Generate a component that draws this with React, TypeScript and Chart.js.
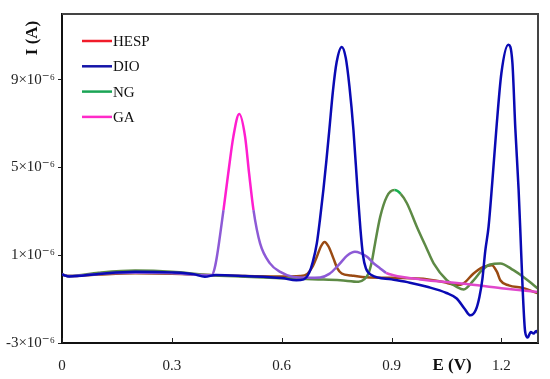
import React, { useEffect, useRef } from "react";
import { Chart, registerables } from "chart.js";

Chart.register(...registerables);

// Potential E (V) and current I (units of 1e-6 A)
const HESP_V = [0.0, 0.02, 0.1, 0.2, 0.3, 0.4, 0.5, 0.6, 0.65, 0.67, 0.685, 0.696, 0.707, 0.717, 0.728, 0.741, 0.752, 0.764, 0.79, 0.82, 0.9, 1.0, 1.05, 1.078, 1.096, 1.124, 1.151, 1.174, 1.188, 1.197, 1.22, 1.26, 1.3];
const HESP_I = [0.12, 0.05, 0.12, 0.18, 0.16, 0.1, 0.05, 0.03, 0.05, 0.15, 0.5, 0.93, 1.4, 1.61, 1.4, 0.87, 0.4, 0.17, 0.08, 0.01, -0.03, -0.1, -0.25, -0.36, -0.29, 0.17, 0.47, 0.55, 0.24, -0.14, -0.37, -0.5, -0.74];

const DIO_V = [0.0, 0.02, 0.1, 0.2, 0.3, 0.36, 0.39, 0.42, 0.5, 0.6, 0.64, 0.66, 0.675, 0.685, 0.696, 0.705, 0.714, 0.722, 0.73, 0.74, 0.75, 0.764, 0.775, 0.785, 0.796, 0.807, 0.815, 0.822, 0.83, 0.845, 0.9, 0.95, 1.0, 1.05, 1.078, 1.1, 1.115, 1.13, 1.14, 1.148, 1.156, 1.165, 1.175, 1.186, 1.2, 1.219, 1.23, 1.238, 1.247, 1.252, 1.258, 1.265, 1.272, 1.28, 1.288, 1.295, 1.3];
const DIO_I = [0.12, 0.03, 0.15, 0.25, 0.22, 0.14, 0.02, 0.1, 0.05, -0.04, -0.14, -0.1, 0.2, 0.7, 1.55, 2.7, 4.0, 5.3, 6.7, 8.5, 9.8, 10.5, 10.0, 8.7, 6.7, 4.0, 2.2, 1.0, 0.4, 0.1, -0.1, -0.25, -0.45, -0.72, -0.97, -1.45, -1.74, -1.5, -0.9, -0.1, 1.2, 2.3, 4.3, 6.7, 9.3, 10.6, 9.8, 6.8, 4.0, 2.0, -0.5, -2.5, -2.75, -2.5, -2.57, -2.45, -2.55];

const NG_V = [0.0, 0.02, 0.1, 0.2, 0.3, 0.4, 0.5, 0.6, 0.7, 0.76, 0.81, 0.825, 0.837, 0.846, 0.855, 0.869, 0.887, 0.908, 0.925, 0.942, 0.969, 0.996, 1.015, 1.051, 1.078, 1.097, 1.124, 1.147, 1.169, 1.197, 1.233, 1.26, 1.283, 1.3];
const NG_I = [0.12, 0.05, 0.2, 0.3, 0.25, 0.1, 0.02, -0.05, -0.1, -0.14, -0.21, -0.1, 0.17, 0.7, 1.54, 2.75, 3.67, 3.97, 3.8, 3.37, 2.3, 1.31, 0.63, -0.14, -0.44, -0.56, -0.14, 0.32, 0.58, 0.63, 0.32, 0.01, -0.29, -0.52];

const GA_V = [0.0, 0.02, 0.1, 0.2, 0.3, 0.38, 0.409, 0.416, 0.423, 0.441, 0.454, 0.468, 0.484, 0.5, 0.511, 0.523, 0.541, 0.568, 0.596, 0.632, 0.67, 0.705, 0.73, 0.755, 0.78, 0.8, 0.815, 0.833, 0.85, 0.869, 0.885, 0.905, 0.978, 1.1, 1.2, 1.3];
const GA_I = [0.12, 0.05, 0.15, 0.2, 0.18, 0.1, 0.09, 0.35, 0.93, 3.06, 4.73, 6.41, 7.44, 6.41, 4.73, 3.06, 1.54, 0.63, 0.24, 0.01, -0.02, -0.01, 0.15, 0.55, 1.0, 1.16, 1.1, 0.93, 0.65, 0.4, 0.2, 0.09, -0.1, -0.3, -0.5, -0.67];

const SERIES_NAMES = ["HESP", "DIO", "NG", "GA"];
const LEGEND_COLORS = ["#f01c2a", "#1414a8", "#1aa555", "#ff2ac8"];
const X_TICKS = [0, 0.3, 0.6, 0.9, 1.2];
const Y_TICKS = [-3, 1, 5, 9];
const X_MIN = 0;
const X_MAX = 1.3;
const Y_MIN = -3;
const Y_MAX = 12;

const FONT = "'Liberation Serif', 'DejaVu Serif', serif";

const pts = (xs: number[], ys: number[]) => xs.map((x, i) => ({ x, y: ys[i] }));

const decorPlugin = {
  id: "decor",
  afterDatasetsDraw(chart: any) {
    const { ctx, chartArea } = chart;
    const { left, right, top, bottom } = chartArea;
    const xs = chart.scales.x;
    ctx.save();
    // top/right frame
    ctx.strokeStyle = "#444";
    ctx.lineWidth = 2;
    ctx.beginPath();
    ctx.moveTo(left, top);
    ctx.lineTo(right, top);
    ctx.lineTo(right, bottom);
    ctx.stroke();
    // inward x ticks
    ctx.strokeStyle = "#222";
    ctx.lineWidth = 1;
    X_TICKS.forEach((v) => {
      const px = Math.round(xs.getPixelForValue(v)) + 0.5;
      ctx.beginPath();
      ctx.moveTo(px, bottom);
      ctx.lineTo(px, bottom - 5);
      ctx.stroke();
    });
    // legend
    ctx.font = `15px ${FONT}`;
    ctx.textBaseline = "middle";
    ctx.textAlign = "left";
    SERIES_NAMES.forEach((name, i) => {
      const y = 41 + i * 25.3;
      ctx.strokeStyle = LEGEND_COLORS[i];
      ctx.lineWidth = 2.5;
      ctx.beginPath();
      ctx.moveTo(82, y);
      ctx.lineTo(112, y);
      ctx.stroke();
      ctx.fillStyle = "#111";
      ctx.fillText(name, 113, y + 1);
    });
    // axis titles
    ctx.font = `bold 17px ${FONT}`;
    ctx.fillStyle = "#111";
    ctx.textAlign = "center";
    ctx.fillText("E (V)", 452, 366);
    ctx.translate(32, 38);
    ctx.rotate(-Math.PI / 2);
    ctx.fillText("I (A)", 0, 1);
    ctx.restore();
  },
};

export default function App() {
  const ref = useRef<HTMLCanvasElement | null>(null);
  useEffect(() => {
    if (!ref.current) return;
    const chart = new Chart(ref.current, {
      type: "line",
      data: {
        datasets: [
          {
            label: "DIO",
            data: pts(DIO_V, DIO_I),
            borderColor: "#0a0ab4",
          },
          {
            label: "GA",
            data: pts(GA_V, GA_I),
            borderColor: "#8d5ad6",
            segment: {
              borderColor: (c: any) => {
                if (Math.min(c.p0.parsed.y, c.p1.parsed.y) > 3.0) return "#ff1ecf";
                if (c.p0.parsed.x >= 0.88) return "#e048cc";
                return "#8d5ad6";
              },
            },
          },
          {
            label: "NG",
            data: pts(NG_V, NG_I),
            borderColor: "#5d8a45",
            segment: {
              borderColor: (c: any) =>
                Math.min(c.p0.parsed.y, c.p1.parsed.y) > 3.7 ? "#18b050" : "#5d8a45",
            },
          },
          {
            label: "HESP",
            data: pts(HESP_V, HESP_I),
            borderColor: "#9a4a12",
          },
        ].map((d) => ({
          ...d,
          borderWidth: 2.5,
          pointRadius: 0,
          fill: false,
          cubicInterpolationMode: "monotone" as const,
        })),
      },
      options: {
        responsive: false,
        animation: false,
        layout: { padding: { left: 0, top: 14, right: 12, bottom: 0 } },
        plugins: { legend: { display: false }, tooltip: { enabled: false } },
        scales: {
          x: {
            type: "linear",
            min: X_MIN,
            max: X_MAX,
            afterBuildTicks: (s: any) => {
              s.ticks = X_TICKS.map((v) => ({ value: v }));
            },
            afterFit: (s: any) => {
              s.height = 36;
            },
            grid: { display: true, drawOnChartArea: false, drawTicks: false },
            border: { color: "#111", width: 2 },
            ticks: {
              padding: 14,
              color: "#222",
              font: { family: FONT, size: 15 },
              maxRotation: 0,
              callback: (v: any) => String(v),
            },
          },
          y: {
            type: "linear",
            min: Y_MIN,
            max: Y_MAX,
            afterBuildTicks: (s: any) => {
              s.ticks = Y_TICKS.map((v) => ({ value: v }));
            },
            afterFit: (s: any) => {
              s.width = 62;
            },
            grid: { display: true, drawOnChartArea: false, drawTicks: true, tickLength: 4, color: "#222" },
            border: { color: "#111", width: 2 },
            ticks: {
              padding: 3,
              color: "#222",
              font: { family: FONT, size: 15 },
              callback: (v: any) => `${v}×10⁻⁶`,
            },
          },
        },
      },
      plugins: [decorPlugin],
    } as any);
    return () => chart.destroy();
  }, []);
  return (
    <div style={{ position: "fixed", left: 0, top: 0, width: 550, height: 379, background: "#fff" }}>
      <canvas ref={ref} width={550} height={379} />
    </div>
  );
}
